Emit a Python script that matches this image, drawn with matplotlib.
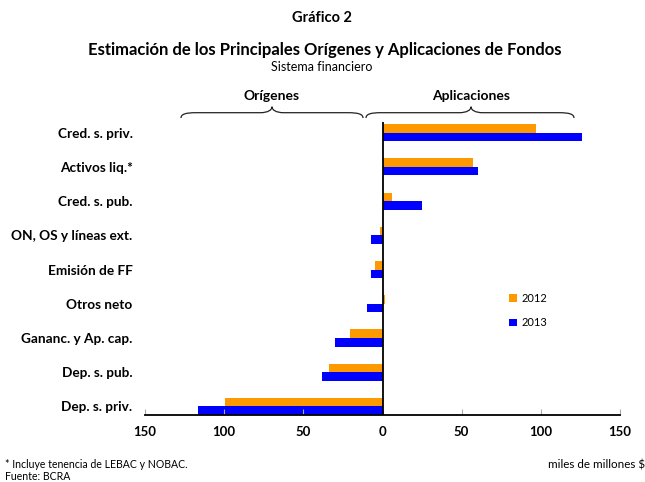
import matplotlib.pyplot as plt
import numpy as np
from matplotlib.path import Path
from matplotlib.patches import PathPatch
from matplotlib.ticker import FuncFormatter

plt.rcParams['font.family'] = ['Lato', 'DejaVu Sans']

# datos (miles de millones $), de arriba hacia abajo
categorias = ["Cred. s. priv.", "Activos liq.*", "Cred. s. pub.", "ON, OS y líneas ext.",
              "Emisión de FF", "Otros neto", "Gananc. y Ap. cap.", "Dep. s. pub.", "Dep. s. priv."]
v2012 = [97, 57, 6, -1.5, -5, 1.7, -20.5, -33.5, -99.5]
v2013 = [126, 60, 25, -7, -7, -10, -30, -38.5, -116.5]

W, H = 645, 482
fig = plt.figure(figsize=(W / 100, H / 100), dpi=100)
ax = fig.add_axes([145 / W, 1 - 415 / H, 475 / W, 293 / H])

n = len(categorias)
y = np.arange(n)[::-1]
h = 0.25
ax.barh(y + h / 2, v2012, height=h, color="#FF9900", label="2012")
ax.barh(y - h / 2, v2013, height=h, color="#0000FF", label="2013")

ax.set_xlim(-150, 150)
ax.set_ylim(-0.25, 8.31)
ax.axvline(0, color="black", lw=1.3)
ax.set_xticks([-150, -100, -50, 0, 50, 100, 150])
ax.xaxis.set_major_formatter(FuncFormatter(lambda v, p: f"{abs(int(v))}"))
ax.tick_params(axis="x", direction="in", length=4, color="#aaaaaa", labelsize=9.5, pad=8)
for t in ax.get_xticklabels():
    t.set_fontweight("bold")
ax.set_yticks(y)
ax.set_yticklabels(categorias, fontsize=9.8, fontweight="bold")
ax.tick_params(axis="y", length=0, pad=9)
for s in ["top", "right", "left"]:
    ax.spines[s].set_visible(False)
ax.spines["bottom"].set_linewidth(1.3)

ax.legend(loc="upper left", bbox_to_anchor=(0.745, 0.45), frameon=False, fontsize=8,
          handlelength=0.7, handleheight=0.7, labelspacing=1.2, handletextpad=0.4)

def fx(px):
    return px / W

def fy(py):
    return 1 - py / H

fig.text(fx(322), fy(18), "Gráfico 2", ha="center", va="center", fontsize=10.5, fontweight="bold")
fig.text(fx(325), fy(50), "Estimación de los Principales Orígenes y Aplicaciones de Fondos",
         ha="center", va="center", fontsize=12, fontweight="bold")
fig.text(fx(322), fy(67), "Sistema financiero", ha="center", va="center", fontsize=9)

def llave(x0, tip, x1):
    yb, yh, yt = 118, 112.7, 106.7
    pts = [(x0, yb), (x0, 114), (x0 + 5, yh), (x0 + 15, yh),
           (tip - 12, yh),
           (tip - 4, yh), (tip, 110), (tip, yt),
           (tip, 110), (tip + 4, yh), (tip + 12, yh),
           (x1 - 15, yh),
           (x1 - 5, yh), (x1, 114), (x1, yb)]
    codes = [Path.MOVETO, Path.CURVE4, Path.CURVE4, Path.CURVE4,
             Path.LINETO,
             Path.CURVE4, Path.CURVE4, Path.CURVE4,
             Path.CURVE4, Path.CURVE4, Path.CURVE4,
             Path.LINETO,
             Path.CURVE4, Path.CURVE4, Path.CURVE4]
    verts = [(fx(a), fy(b)) for a, b in pts]
    fig.add_artist(PathPatch(Path(verts, codes), transform=fig.transFigure,
                             fill=False, lw=0.9, color="#222222"))

llave(181, 272, 363)
llave(366, 471, 574)
fig.text(fx(272), fy(96), "Orígenes", ha="center", va="center", fontsize=10, fontweight="bold")
fig.text(fx(471), fy(96), "Aplicaciones", ha="center", va="center", fontsize=10, fontweight="bold")

fig.text(fx(5), fy(465), "* Incluye tenencia de LEBAC y NOBAC.", ha="left", va="center", fontsize=7.6)
fig.text(fx(5), fy(477), "Fuente: BCRA", ha="left", va="center", fontsize=7.6)
fig.text(fx(645), fy(465), "miles de millones $", ha="right", va="center", fontsize=8.4)

fig.savefig("out.png", dpi=100)
